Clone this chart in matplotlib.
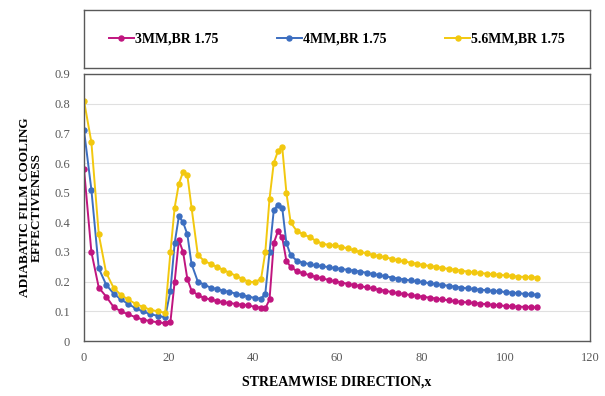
import matplotlib
matplotlib.use("Agg")
from matplotlib import pyplot as plt
from matplotlib.lines import Line2D

# streamwise positions (shared by all three cases)
x = [0, 1.75, 3.5, 5.25, 7, 8.75, 10.5, 12.25, 14, 15.75, 17.5, 19.25,
     20.5, 21.5, 22.5, 23.5, 24.5, 25.5, 27, 28.5, 30, 31.5, 33, 34.5, 36, 37.5,
     39, 40.5, 42, 43, 44, 45, 46, 47, 48, 49,
     50.5, 52, 53.5, 55, 56.5, 58, 59.5, 61, 62.5, 64, 65.5, 67, 68.5, 70,
     71.5, 73, 74.5, 76, 77.5, 79, 80.5, 82, 83.5, 85, 86.5, 88, 89.5, 91,
     92.5, 94, 95.5, 97, 98.5, 100, 101.5, 103, 104.5, 106, 107.5]

eff_3mm = [0.58, 0.30, 0.18, 0.15, 0.115, 0.10, 0.09, 0.08, 0.072, 0.067, 0.063, 0.06,
           0.065, 0.20, 0.34, 0.30, 0.21, 0.17, 0.155, 0.145, 0.14, 0.135, 0.13, 0.128, 0.125, 0.122,
           0.12, 0.115, 0.112, 0.11, 0.14, 0.33, 0.37, 0.35, 0.27, 0.25,
           0.235, 0.228, 0.222, 0.216, 0.211, 0.206, 0.201, 0.197, 0.193, 0.189, 0.185, 0.181, 0.177, 0.173,
           0.169, 0.165, 0.161, 0.158, 0.155, 0.152, 0.149, 0.146, 0.143, 0.140, 0.137, 0.134, 0.132, 0.130,
           0.128, 0.126, 0.124, 0.122, 0.120, 0.118, 0.117, 0.116, 0.115, 0.114, 0.113]

eff_4mm = [0.71, 0.51, 0.245, 0.19, 0.16, 0.14, 0.125, 0.11, 0.10, 0.09, 0.085, 0.08,
           0.17, 0.33, 0.42, 0.40, 0.36, 0.26, 0.20, 0.19, 0.18, 0.175, 0.17, 0.165, 0.16, 0.155,
           0.15, 0.145, 0.143, 0.16, 0.30, 0.44, 0.46, 0.45, 0.33, 0.29,
           0.270, 0.264, 0.259, 0.255, 0.252, 0.249, 0.246, 0.243, 0.240, 0.237, 0.234, 0.230, 0.226, 0.222,
           0.218, 0.214, 0.210, 0.207, 0.204, 0.201, 0.198, 0.195, 0.192, 0.189, 0.186, 0.183, 0.180, 0.177,
           0.175, 0.173, 0.171, 0.169, 0.167, 0.165, 0.163, 0.161, 0.159, 0.157, 0.156]

eff_56mm = [0.81, 0.67, 0.36, 0.23, 0.18, 0.155, 0.14, 0.125, 0.115, 0.105, 0.10, 0.095,
            0.30, 0.45, 0.53, 0.57, 0.56, 0.45, 0.29, 0.27, 0.26, 0.25, 0.24, 0.23, 0.22, 0.21,
            0.20, 0.198, 0.21, 0.30, 0.48, 0.60, 0.64, 0.655, 0.50, 0.40,
            0.370, 0.360, 0.350, 0.338, 0.328, 0.324, 0.322, 0.318, 0.312, 0.306, 0.300, 0.296, 0.290, 0.286,
            0.282, 0.277, 0.272, 0.268, 0.264, 0.260, 0.256, 0.253, 0.250, 0.246, 0.243, 0.240, 0.237, 0.234,
            0.231, 0.229, 0.227, 0.225, 0.223, 0.221, 0.219, 0.217, 0.216, 0.215, 0.214]

labels = ["3MM,BR 1.75", "4MM,BR 1.75", "5.6MM,BR 1.75"]
colors = ["#C0157F", "#3C6EC0", "#F2C80F"]
series = [eff_3mm, eff_4mm, eff_56mm]

plt.rcParams["font.family"] = "Liberation Serif"

fig = plt.figure(figsize=(6.05, 3.96), dpi=100)
ax = fig.add_axes([84 / 605, 1 - 341 / 396, 506 / 605, 267 / 396])

for vals, col, lab in zip(series, colors, labels):
    ax.plot(x, vals, color=col, linewidth=1.4, marker="o", markersize=3.6, label=lab)

ax.set_xlim(0, 120)
ax.set_ylim(0, 0.9)
ax.set_xticks([0, 20, 40, 60, 80, 100, 120])
ax.set_yticks([0, 0.1, 0.2, 0.3, 0.4, 0.5, 0.6, 0.7, 0.8, 0.9])
ax.set_yticklabels(["0", "0.1", "0.2", "0.3", "0.4", "0.5", "0.6", "0.7", "0.8", "0.9"])
ax.yaxis.grid(True, color="#e0e0e0", linewidth=0.8)
ax.set_axisbelow(True)
ax.tick_params(length=0, labelsize=9, colors="#595959")
ax.tick_params(axis="x", pad=8)
ax.tick_params(axis="y", pad=10)
for sp in ax.spines.values():
    sp.set_color("#595959")
    sp.set_linewidth(1.0)

ax.set_xlabel("STREAMWISE DIRECTION,x", fontsize=10, fontweight="bold", labelpad=8)
ax.set_ylabel("ADIABATIC FILM COOLING\nEFFECTIVENESS", fontsize=9.5, fontweight="bold",
              labelpad=8, linespacing=1.0)

# legend in its own box above the plot
ax_leg = fig.add_axes([84 / 605, 1 - 68 / 396, 506 / 605, 58 / 396])
ax_leg.set_xticks([])
ax_leg.set_yticks([])
for sp in ax_leg.spines.values():
    sp.set_color("#595959")
    sp.set_linewidth(1.0)
handles = [Line2D([], [], color=c, linewidth=1.4, marker="o", markersize=3.6) for c in colors]
ax_leg.legend(handles, labels, loc="center", bbox_to_anchor=(0.5, 0.5), ncol=3, frameon=False,
              prop={"weight": "bold", "size": 10}, handlelength=1.8, handletextpad=0.1,
              columnspacing=4.2)

fig.savefig("out.png", dpi=100)
